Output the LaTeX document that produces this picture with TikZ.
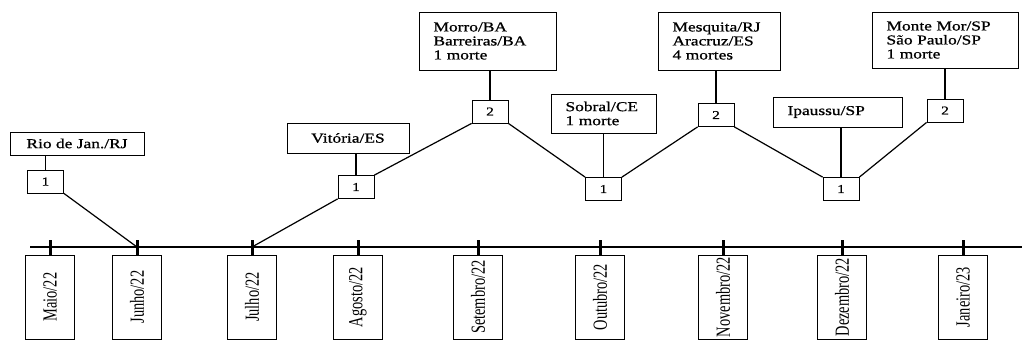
\documentclass[tikz,border=0pt]{standalone}
\usepackage{fontspec}
\setmainfont{Liberation Serif}
\newfontfamily\boxfont[FakeStretch=1.28, FakeBold=0.8]{Liberation Serif}
\newfontfamily\monthfont[FakeStretch=0.72]{Liberation Serif}
\tikzset{
    placebox/.style={draw, line width=0.8pt, inner sep=0pt, font=\boxfont\fontsize{13.6}{14}\selectfont},
    countbox/.style={draw, line width=0.8pt, inner sep=0pt, minimum width=36pt, minimum height=23pt, font=\boxfont\fontsize{12}{12}\selectfont},
    monthbox/.style={draw, line width=0.8pt, inner sep=0pt, rotate=90, minimum width=84pt, minimum height=49pt, font=\monthfont\fontsize{20}{20}\selectfont},
    link/.style={line width=1.2pt},
    tickmark/.style={line width=3pt},
}
\begin{document}
\begin{tikzpicture}[x=1pt, y=-1pt]
    \useasboundingbox (0,0) rectangle (1022,341);

    % Define the time axis
    \draw[link] (30,247) -- (1022,247);
    \foreach \i/\x/\mes in {1/50/{Maio/22}, 2/137/{Junho/22}, 3/252/{Julho/22}, 4/358/{Agosto/22}, 5/478/{Setembro/22}, 6/600/{Outubro/22}, 7/723/{Novembro/22}, 8/842/{Dezembro/22}, 9/963/{Janeiro/23}} {
        \coordinate (t\i) at (\x,247);
        \draw[tickmark] (\x,240) -- (\x,256);
        \node[monthbox] (m\i) at (\x,297) {\mes};
    }

    % Define the event counts
    \node[countbox] (n1) at (45.5,181.5) {1};
    \node[countbox] (n2) at (356,187) {1};
    \node[countbox] (n3) at (490,111.5) {2};
    \node[countbox] (n4) at (603.5,189) {1};
    \node[countbox] (n5) at (716,115) {2};
    \node[countbox] (n6) at (841,189) {1};
    \node[countbox] (n7) at (945,110.5) {2};

    % Label the places
    \node[placebox, minimum width=134pt, minimum height=23pt] (rio) at (77,143.5) {Rio de Jan./RJ};
    \node[placebox, minimum width=122pt, minimum height=30pt] (vit) at (348,138) {Vitória/ES};
    \node[placebox, minimum width=137pt, minimum height=58pt, text width=108pt, align=left] (morro) at (487.5,41) {Morro/BA\\Barreiras/BA\\1 morte};
    \node[placebox, minimum width=105pt, minimum height=39pt, text width=76pt, align=left] (sobral) at (603.5,113.5) {Sobral/CE\\1 morte};
    \node[placebox, minimum width=122pt, minimum height=58pt, text width=93pt, align=left] (mesq) at (719,41) {Mesquita/RJ\\Aracruz/ES\\4 mortes};
    \node[placebox, minimum width=129pt, minimum height=30pt, text width=100pt, align=left] (ipau) at (837.5,112) {Ipaussu/SP};
    \node[placebox, minimum width=146pt, minimum height=56pt, text width=117pt, align=left] (monte) at (945,40) {Monte Mor/SP\\São Paulo/SP\\1 morte};

    \draw[link] (n1.north) -- (n1.north |- rio.south);
    \draw[link] (n2.north) -- (n2.north |- vit.south);
    \draw[link] (n3.north) -- (n3.north |- morro.south);
    \draw[link] (n4.north) -- (n4.north |- sobral.south);
    \draw[link] (n5.north) -- (n5.north |- mesq.south);
    \draw[link] (n6.north) -- (n6.north |- ipau.south);
    \draw[link] (n7.north) -- (n7.north |- monte.south);

    % Join the counts
    \draw[link] (n1.south east) -- (t2);
    \draw[link] (t3) -- (n2.south west);
    \draw[link] (n2.north east) -- (n3.south west);
    \draw[link] (n3.south east) -- (n4.north west);
    \draw[link] (n4.north east) -- (n5.south west);
    \draw[link] (n5.south east) -- (n6.north west);
    \draw[link] (n6.north east) -- (n7.south west);

\end{tikzpicture}
\end{document}
